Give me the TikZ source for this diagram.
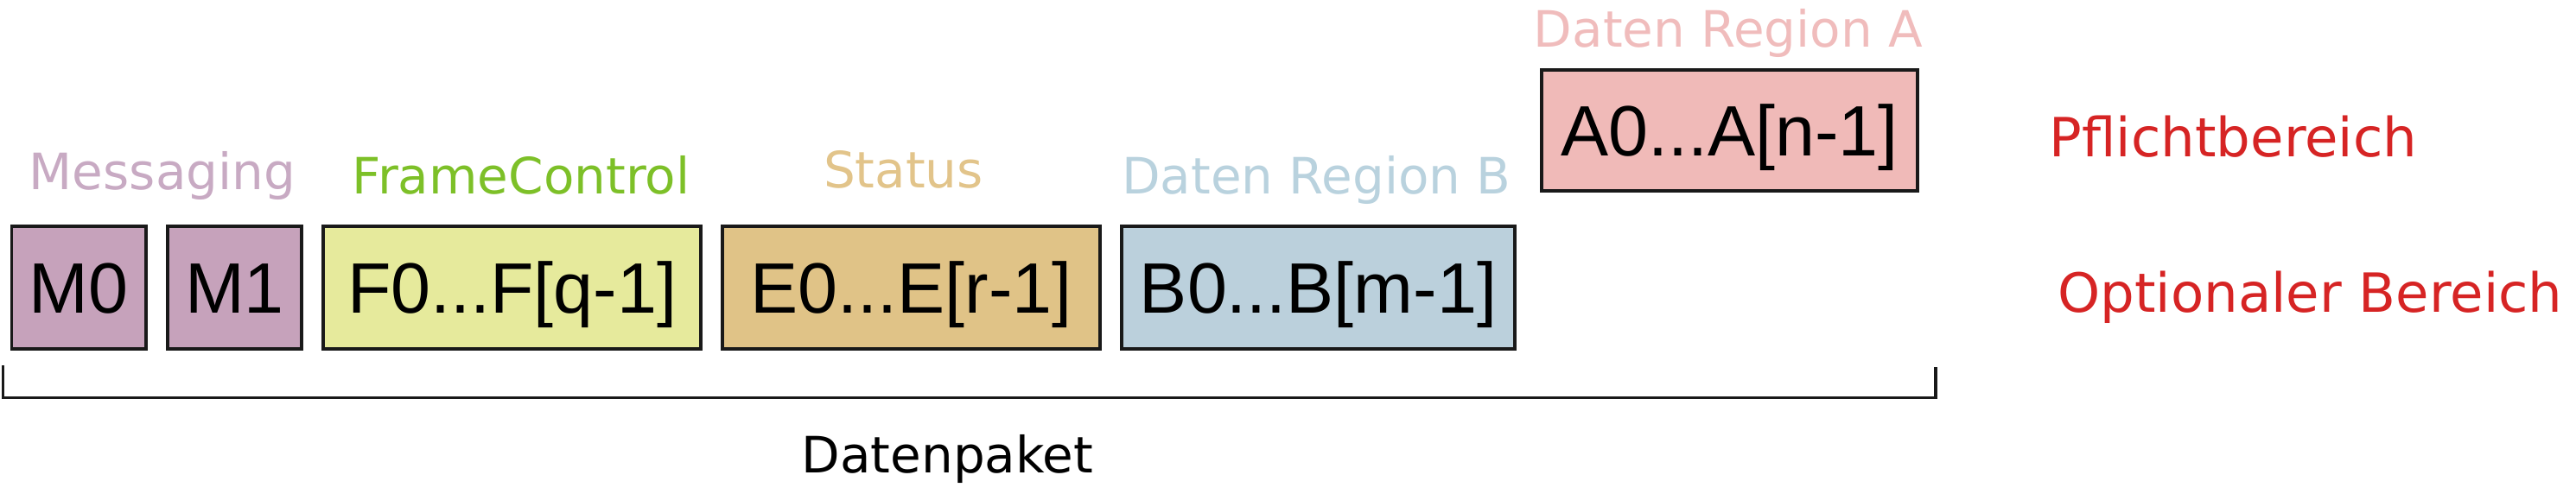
\documentclass[tikz,border=0pt]{standalone}
\usepackage{fontspec}
\setmainfont{Liberation Sans}
\newfontfamily\handfont{DejaVu Sans}
\definecolor{msgfill}{RGB}{198,162,187}
\definecolor{frmfill}{RGB}{230,234,156}
\definecolor{stafill}{RGB}{224,195,135}
\definecolor{dbfill}{RGB}{187,208,220}
\definecolor{dafill}{RGB}{240,186,184}
\definecolor{msgtext}{RGB}{200,170,195}
\definecolor{frmtext}{RGB}{125,192,40}
\definecolor{statext}{RGB}{226,196,138}
\definecolor{dbtext}{RGB}{185,210,222}
\definecolor{datext}{RGB}{240,188,188}
\definecolor{redtext}{RGB}{214,36,36}
\begin{document}
\begin{tikzpicture}[
  field/.style={draw=black!90,line width=1.1pt,inner sep=0pt,minimum height=1.42cm,
    font=\fontsize{23.5}{25}\selectfont,text height=0.6cm,text depth=0cm},
  hand/.style={anchor=base,font=\handfont\fontsize{16.5}{18}\selectfont},
  bigh/.style={anchor=base,text=redtext,font=\handfont\fontsize{17.8}{20}\selectfont}]
\useasboundingbox (0,0) rectangle (29.81,5.72);
% bottom row
\node[field,fill=msgfill,minimum width=1.555cm] (m0) at (0.9125,2.3925) {M0};
\node[field,fill=msgfill,minimum width=1.55cm] (m1) at (2.715,2.3925) {M1};
\node[field,fill=frmfill,minimum width=4.37cm] (frm) at (5.925,2.3925) {F0...F[q-1]};
\node[field,fill=stafill,minimum width=4.37cm] (sta) at (10.545,2.3925) {E0...E[r-1]};
\node[field,fill=dbfill,minimum width=4.55cm] (regb) at (15.255,2.3925) {B0...B[m-1]};
% top row
\node[field,fill=dafill,minimum width=4.35cm,minimum height=1.40cm] (rega) at (20.015,4.21) {A0...A[n-1]};
% labels
\node[hand,text=msgtext] (lmsg) at (1.88,3.52) {Messaging};
\node[hand,text=frmtext] (lfrm) at (6.03,3.47) {FrameControl};
\node[hand,text=statext] (lsta) at (10.455,3.54) {Status};
\node[hand,text=dbtext] (lregb) at (15.235,3.47) {Daten Region B};
\node[hand,text=datext] (lrega) at (20.00,5.17) {Daten Region A};
\node[bigh] (pfl) at (25.845,3.90) {Pflichtbereich};
\node[bigh,anchor=base east] (opt) at (29.78,2.10) {Optionaler Bereich};
% bracket
\coordinate (bl) at (0.035,1.49);
\coordinate (br) at (22.40,1.47);
\draw[line width=0.95pt,black!90] (bl) |- (br |- 0,1.115) -- (br);
\node[hand] (pak) at (10.965,0.24) {Datenpaket};
\end{tikzpicture}
\end{document}
